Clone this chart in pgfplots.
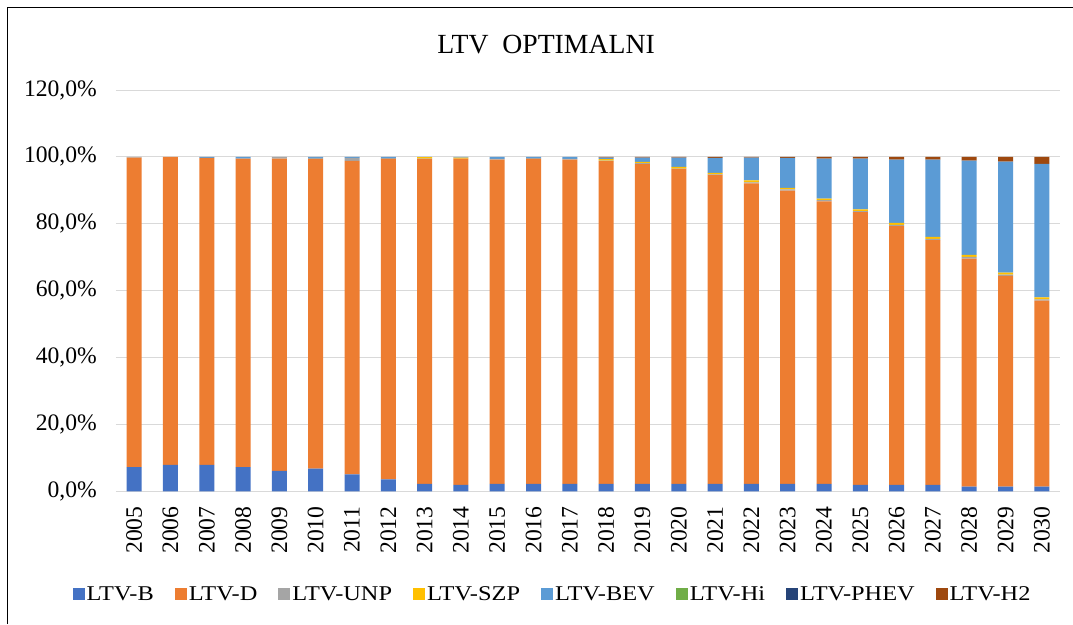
\documentclass[border=0pt]{standalone}
\usepackage{pgfplots}
\pgfplotsset{compat=1.18}
\usepackage{pgfplotstable}
\usepackage{fontspec}
\setmainfont{Liberation Serif}
\newfontfamily\legendfont{Liberation Serif}[FakeStretch=1.16]

\definecolor{cB}{HTML}{4472C4}
\definecolor{cD}{HTML}{ED7D31}
\definecolor{cUNP}{HTML}{A5A5A5}
\definecolor{cSZP}{HTML}{FFC000}
\definecolor{cBEV}{HTML}{5B9BD5}
\definecolor{cHi}{HTML}{70AD47}
\definecolor{cPHEV}{HTML}{264478}
\definecolor{cH}{HTML}{9E480E}
\definecolor{gridgray}{HTML}{D9D9D9}

% shares in %, years 2005..2030 at x = 0..25
\pgfplotstableread{
x  B    D     UNP  SZP  BEV   Hi  PHEV  H2
0  7.2  92.6  0.2  0.0  0.0   0   0     0.0
1  7.9  92.1  0.0  0.0  0.0   0   0     0.0
2  7.9  91.8  0.0  0.0  0.3   0   0     0.0
3  7.2  92.3  0.0  0.0  0.5   0   0     0.0
4  6.1  93.4  0.5  0.0  0.0   0   0     0.0
5  6.8  92.5  0.4  0.0  0.3   0   0     0.0
6  5.1  93.7  0.9  0.0  0.3   0   0     0.0
7  3.6  95.8  0.2  0.0  0.4   0   0     0.0
8  2.2  97.2  0.1  0.4  0.1   0   0     0.0
9  1.9  97.6  0.0  0.3  0.2   0   0     0.0
10 2.2  97.0  0.2  0.0  0.6   0   0     0.0
11 2.2  97.2  0.2  0.0  0.4   0   0     0.0
12 2.2  97.0  0.2  0.0  0.6   0   0     0.0
13 2.2  96.5  0.2  0.4  0.5   0   0     0.2
14 2.2  95.6  0.3  0.4  1.3   0   0     0.2
15 2.2  94.2  0.1  0.5  2.8   0   0     0.2
16 2.2  92.4  0.2  0.4  4.5   0   0     0.3
17 2.2  89.9  0.3  0.6  6.8   0   0     0.2
18 2.2  87.7  0.4  0.4  9.0   0   0     0.3
19 2.2  84.5  0.4  0.4  12.0  0   0     0.5
20 1.9  81.6  0.3  0.5  15.2  0   0     0.5
21 1.9  77.4  0.4  0.6  18.9  0   0     0.8
22 1.9  73.2  0.4  0.6  23.1  0   0     0.8
23 1.4  68.2  0.5  0.6  28.2  0   0     1.1
24 1.4  63.0  0.4  0.6  33.2  0   0     1.4
25 1.4  55.6  0.4  0.6  39.9  0   0     2.1
}\ltvdata

\begin{document}
\begin{tikzpicture}[x=1pt,y=1pt]
\useasboundingbox (0,0) rectangle (1073,-624);
\draw[line width=1.5pt] (7.5,-624) -- (7.5,-7.5) -- (1073,-7.5);
\node[anchor=base, font=\fontsize{27.7}{33}\selectfont] at (546,-53) {LTV\ \ OPTIMALNI};
\begin{axis}[
    at={(116pt,-491.3pt)}, anchor=south west,
    scale only axis,
    width=944pt, height=401.3pt,
    ybar stacked,
    bar width=15pt,
    xmin=-0.5, xmax=25.5,
    ymin=0, ymax=120,
    xtick={0,...,25},
    xticklabels={2005,2006,2007,2008,2009,2010,2011,2012,2013,2014,2015,2016,2017,2018,2019,2020,2021,2022,2023,2024,2025,2026,2027,2028,2029,2030},
    ytick={0,20,...,120},
    yticklabels={{0,0\%},{20,0\%},{40,0\%},{60,0\%},{80,0\%},{100,0\%},{120,0\%}},
    major tick length=0pt,
    tick label style={font=\fontsize{23.6}{28}\selectfont, inner sep=0pt},
    xticklabel style={rotate=90, anchor=east},
    yticklabel style={anchor=east},
    xticklabel shift=15pt,
    yticklabel shift=19pt,
    axis x line*=bottom,
    axis y line*=left,
    y axis line style={draw=none},
    x axis line style={draw=gridgray, line width=1.3pt, -},
    ymajorgrids=true,
    grid style={draw=gridgray, line width=1pt},
    legend columns=8,
    legend style={at={(0.4624,-0.256)}, anchor=center, draw=none,
        font=\legendfont\fontsize{21}{26}\selectfont,
        nodes={inner sep=2pt},
        /tikz/every even column/.append style={column sep=19pt}},
    legend image code/.code={\draw[#1,draw=none] (0pt,-6pt) rectangle (12pt,6pt);},
]
\addplot[fill=cB, draw=none] table[x=x, y=B] {\ltvdata};
\addplot[fill=cD, draw=none] table[x=x, y=D] {\ltvdata};
\addplot[fill=cUNP, draw=none] table[x=x, y=UNP] {\ltvdata};
\addplot[fill=cSZP, draw=none] table[x=x, y=SZP] {\ltvdata};
\addplot[fill=cBEV, draw=none] table[x=x, y=BEV] {\ltvdata};
\addplot[fill=cHi, draw=none] table[x=x, y=Hi] {\ltvdata};
\addplot[fill=cPHEV, draw=none] table[x=x, y=PHEV] {\ltvdata};
\addplot[fill=cH, draw=none] table[x=x, y=H2] {\ltvdata};
\legend{LTV-B,LTV-D,LTV-UNP,LTV-SZP,LTV-BEV,LTV-Hi,LTV-PHEV,LTV-H2}
\end{axis}
\end{tikzpicture}
\end{document}
